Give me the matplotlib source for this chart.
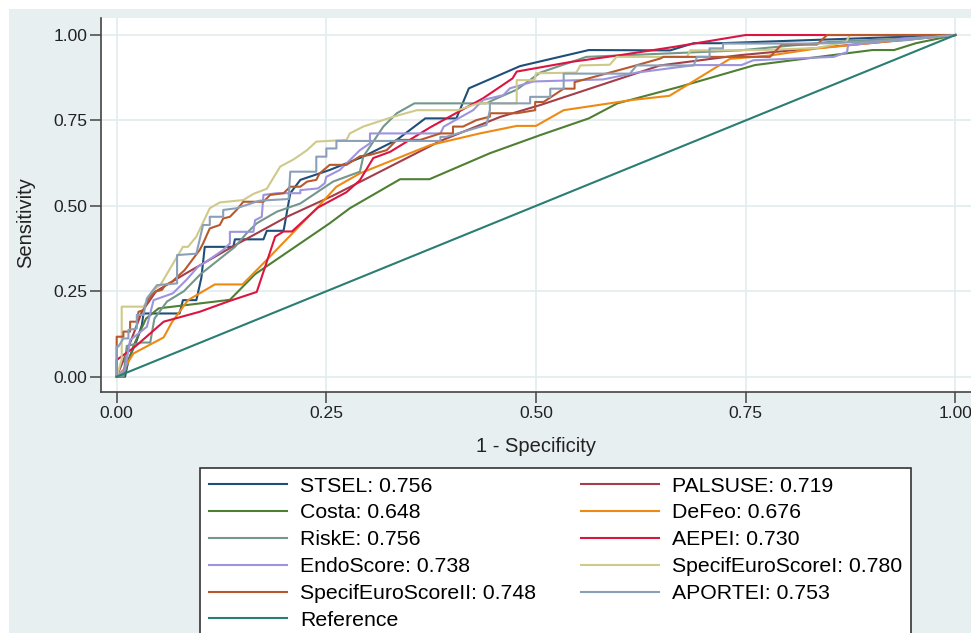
import matplotlib
matplotlib.use('Agg')
import matplotlib.pyplot as plt
from matplotlib.patches import Rectangle

plt.rcParams['font.family'] = ['Liberation Sans', 'DejaVu Sans']

# ROC curves: 1 - specificity (fpr) and sensitivity (tpr)

stsel_fpr = [0, 0.01, 0.014, 0.024, 0.03, 0.032, 0.075, 0.079, 0.095, 0.101, 0.105, 0.139, 0.141,
             0.175, 0.179, 0.199, 0.207, 0.219, 0.254, 0.294, 0.334, 0.368, 0.405, 0.42, 0.481,
             0.563, 0.66, 0.688, 0.719, 0.743, 1]
stsel_tpr = [0, 0, 0.049, 0.107, 0.151, 0.185, 0.185, 0.224, 0.224, 0.29, 0.38, 0.38, 0.402,
             0.402, 0.427, 0.427, 0.537, 0.576, 0.605, 0.644, 0.693, 0.756, 0.756, 0.844, 0.909,
             0.956, 0.955, 0.976, 0.976, 0.978, 1]

palsuse_fpr = [0, 0.01, 0.03, 0.047, 0.083, 0.139, 0.203, 0.258, 0.318, 0.386, 0.457, 0.505,
               0.648, 0.743, 0.835, 0.942, 1]
palsuse_tpr = [0, 0.06, 0.19, 0.25, 0.303, 0.382, 0.468, 0.53, 0.605, 0.69, 0.76, 0.795,
               0.911, 0.941, 0.962, 0.986, 1]

costa_fpr = [0, 0.008, 0.02, 0.035, 0.05, 0.135, 0.165, 0.254, 0.278, 0.338, 0.373, 0.445,
             0.505, 0.563, 0.597, 0.672, 0.761, 0.901, 0.927, 0.953, 1]
costa_tpr = [0, 0, 0.09, 0.17, 0.2, 0.225, 0.3, 0.449, 0.493, 0.578, 0.578, 0.654,
             0.707, 0.756, 0.8, 0.849, 0.912, 0.956, 0.956, 0.976, 1]

defeo_fpr = [0, 0.008, 0.02, 0.056, 0.066, 0.085, 0.117, 0.15, 0.179, 0.24, 0.262, 0.29, 0.374,
             0.433, 0.477, 0.5, 0.533, 0.615, 0.659, 0.68, 0.731, 0.779, 0.833, 0.982, 1]
defeo_tpr = [0, 0.02, 0.068, 0.115, 0.16, 0.224, 0.27, 0.27, 0.342, 0.497, 0.556, 0.595, 0.678,
             0.712, 0.734, 0.734, 0.78, 0.81, 0.822, 0.853, 0.93, 0.94, 0.96, 0.997, 1]

riske_fpr = [0, 0.008, 0.012, 0.03, 0.04, 0.045, 0.06, 0.08, 0.1, 0.141, 0.155, 0.167, 0.191,
             0.219, 0.258, 0.29, 0.294, 0.318, 0.334, 0.355, 0.441, 0.449, 0.477, 0.505, 0.56,
             0.743, 0.851, 0.942, 1]
riske_tpr = [0, 0, 0.09, 0.1, 0.1, 0.17, 0.22, 0.25, 0.3, 0.38, 0.42, 0.449, 0.483,
             0.507, 0.571, 0.6, 0.644, 0.732, 0.771, 0.8, 0.8, 0.81, 0.84, 0.89, 0.936,
             0.955, 0.98, 0.99, 1]

aepei_fpr = [0, 0, 0.022, 0.056, 0.099, 0.135, 0.167, 0.189, 0.199, 0.209, 0.24, 0.274, 0.29,
             0.306, 0.326, 0.374, 0.437, 0.472, 0.477, 0.541, 0.6, 0.664, 0.75, 1]
aepei_tpr = [0, 0.049, 0.088, 0.161, 0.19, 0.222, 0.248, 0.41, 0.425, 0.425, 0.495, 0.54, 0.575,
             0.64, 0.658, 0.73, 0.815, 0.873, 0.893, 0.921, 0.941, 0.965, 1.0, 1]

endo_fpr = [0, 0.01, 0.012, 0.016, 0.036, 0.044, 0.067, 0.083, 0.097, 0.107, 0.127, 0.135, 0.135,
            0.163, 0.165, 0.173, 0.175, 0.191, 0.219, 0.219, 0.24, 0.248, 0.25, 0.266, 0.274,
            0.29, 0.302, 0.302, 0.386, 0.39, 0.425, 0.437, 0.461, 0.469, 0.497, 0.58, 0.62,
            0.689, 0.745, 0.759, 0.855, 0.871, 0.872, 0.942, 0.982, 1]
endo_tpr = [0, 0.02, 0.049, 0.107, 0.146, 0.224, 0.244, 0.283, 0.322, 0.337, 0.371, 0.39, 0.424,
            0.424, 0.458, 0.468, 0.532, 0.537, 0.537, 0.546, 0.551, 0.566, 0.585, 0.605, 0.624,
            0.663, 0.683, 0.712, 0.712, 0.732, 0.78, 0.81, 0.824, 0.844, 0.864, 0.87, 0.89,
            0.912, 0.912, 0.926, 0.936, 0.95, 0.97, 0.99, 0.995, 1]

seuro1_fpr = [0, 0.006, 0.006, 0.032, 0.044, 0.052, 0.079, 0.085, 0.095, 0.111, 0.123, 0.151,
              0.163, 0.179, 0.195, 0.211, 0.227, 0.238, 0.274, 0.278, 0.294, 0.33, 0.358, 0.407,
              0.431, 0.477, 0.477, 0.498, 0.5, 0.548, 0.553, 0.588, 0.596, 0.68, 0.684, 0.771,
              0.835, 0.87, 0.874, 1]
seuro1_tpr = [0, 0.05, 0.205, 0.205, 0.254, 0.268, 0.38, 0.38, 0.41, 0.493, 0.51, 0.517,
              0.535, 0.55, 0.615, 0.636, 0.663, 0.688, 0.693, 0.712, 0.732, 0.761, 0.78, 0.78,
              0.8, 0.8, 0.868, 0.868, 0.888, 0.89, 0.911, 0.913, 0.936, 0.936, 0.955, 0.956,
              0.962, 0.98, 1.0, 1]

seuro2_fpr = [0, 0, 0.008, 0.008, 0.016, 0.016, 0.024, 0.026, 0.032, 0.038, 0.046, 0.054, 0.058,
              0.066, 0.081, 0.099, 0.103, 0.111, 0.123, 0.127, 0.135, 0.143, 0.151, 0.175, 0.183,
              0.199, 0.207, 0.219, 0.227, 0.238, 0.242, 0.254, 0.274, 0.29, 0.302, 0.322, 0.334,
              0.362, 0.386, 0.401, 0.401, 0.413, 0.429, 0.445, 0.445, 0.477, 0.499, 0.499, 0.509,
              0.533, 0.546, 0.546, 0.612, 0.648, 0.652, 0.779, 0.793, 0.835, 0.847, 1]
seuro2_tpr = [0, 0.117, 0.117, 0.132, 0.132, 0.161, 0.161, 0.19, 0.195, 0.229, 0.249, 0.254, 0.268,
              0.278, 0.312, 0.371, 0.39, 0.434, 0.444, 0.463, 0.468, 0.488, 0.512, 0.512, 0.532,
              0.537, 0.556, 0.556, 0.571, 0.576, 0.595, 0.62, 0.62, 0.645, 0.649, 0.663, 0.693,
              0.693, 0.712, 0.712, 0.732, 0.732, 0.751, 0.761, 0.771, 0.771, 0.78, 0.804, 0.804,
              0.843, 0.843, 0.862, 0.906, 0.931, 0.936, 0.936, 0.972, 0.972, 1.0, 1]

aportei_fpr = [0, 0, 0.002, 0.008, 0.014, 0.014, 0.024, 0.024, 0.032, 0.036, 0.048, 0.072, 0.072,
               0.095, 0.103, 0.111, 0.111, 0.127, 0.127, 0.143, 0.17, 0.205, 0.207, 0.238, 0.238,
               0.25, 0.25, 0.262, 0.262, 0.386, 0.386, 0.393, 0.441, 0.445, 0.445, 0.493, 0.493,
               0.517, 0.517, 0.533, 0.533, 0.612, 0.62, 0.688, 0.692, 0.707, 0.707, 0.723, 0.723,
               0.835, 0.942, 0.982, 1]
aportei_tpr = [0, 0.088, 0.088, 0.112, 0.112, 0.137, 0.141, 0.181, 0.181, 0.229, 0.268, 0.273, 0.356,
               0.36, 0.444, 0.444, 0.468, 0.468, 0.488, 0.493, 0.515, 0.52, 0.6, 0.6, 0.644,
               0.644, 0.668, 0.668, 0.69, 0.69, 0.702, 0.702, 0.737, 0.78, 0.8, 0.8, 0.819,
               0.819, 0.843, 0.843, 0.887, 0.887, 0.911, 0.911, 0.936, 0.936, 0.961, 0.961, 0.975,
               0.975, 0.985, 0.997, 1]

ref_fpr = [0, 1]
ref_tpr = [0, 1]

labels = ['STSEL: 0.756', 'PALSUSE: 0.719', 'Costa: 0.648', 'DeFeo: 0.676', 'RiskE: 0.756',
          'AEPEI: 0.730', 'EndoScore: 0.738', 'SpecifEuroScoreI: 0.780',
          'SpecifEuroScoreII: 0.748', 'APORTEI: 0.753', 'Reference']
colors = ['#1f4e79', '#a33e4a', '#4f7f33', '#ee8a12', '#74978b', '#dc1440', '#9d94dd',
          '#cfc98a', '#b8592d', '#8aa0b8', '#2a7d72']

curves = [(stsel_fpr, stsel_tpr), (palsuse_fpr, palsuse_tpr), (costa_fpr, costa_tpr),
          (defeo_fpr, defeo_tpr), (riske_fpr, riske_tpr), (aepei_fpr, aepei_tpr),
          (endo_fpr, endo_tpr), (seuro1_fpr, seuro1_tpr), (seuro2_fpr, seuro2_tpr),
          (aportei_fpr, aportei_tpr), (ref_fpr, ref_tpr)]

ticks = [0, 0.25, 0.5, 0.75, 1]

#figure with the light bluish graph region

fig = plt.figure(figsize=(9.71, 6.33), dpi=100)
fig.patches.append(Rectangle((9 / 971, 0), 1, 1 - 9 / 633, transform=fig.transFigure,
                             facecolor='#e7eff1', edgecolor='none', zorder=-10))

ax = fig.add_axes([101 / 971, 1 - 392 / 633, 870 / 971, 374 / 633])
ax.set_facecolor('white')

handles = []
for (fx, fy), lab, col in zip(curves, labels, colors):
    h, = ax.plot(fx, fy, color=col, lw=1.5, label=lab)
    handles.append(h)

ax.set_xlim(-0.0187, 1.0187)
ax.set_ylim(-0.0448, 1.0498)
ax.set_xticks(ticks)
ax.set_yticks(ticks)
ax.set_xticklabels(['%.2f' % t for t in ticks])
ax.set_yticklabels(['%.2f' % t for t in ticks])
ax.grid(True, color='#e2ebee', lw=1.2)
ax.set_axisbelow(True)

for s in ['top', 'right']:
    ax.spines[s].set_visible(False)
for s in ['left', 'bottom']:
    ax.spines[s].set_color('#444444')
    ax.spines[s].set_linewidth(1.2)

ax.tick_params(direction='out', length=8, width=1.1, color='#444444', labelsize=12.6,
               labelcolor='#222222', pad=2)

ax.set_xlabel('1 - Specificity', fontsize=14.5, color='#222222')
ax.set_ylabel('Sensitivity', fontsize=14.5, color='#222222')
ax.xaxis.set_label_coords(0.5, -0.12)
ax.yaxis.set_label_coords(-0.076, 0.452)

#legend: two columns, filled column by column

order = [0, 2, 4, 6, 8, 10, 1, 3, 5, 7, 9]
leg = fig.legend([handles[i] for i in order], [labels[i] for i in order],
                 loc='upper left', bbox_to_anchor=(200 / 971, 1 - 468 / 633),
                 bbox_transform=fig.transFigure, ncol=2, fontsize=15.3,
                 handlelength=3.7, handletextpad=0.6, columnspacing=2.1,
                 labelspacing=0.37, borderpad=0.4, borderaxespad=0,
                 fancybox=False, framealpha=1)
leg.get_frame().set_edgecolor('#333333')
leg.get_frame().set_linewidth(1.2)

plt.savefig('out.png', dpi=100, facecolor='white')
